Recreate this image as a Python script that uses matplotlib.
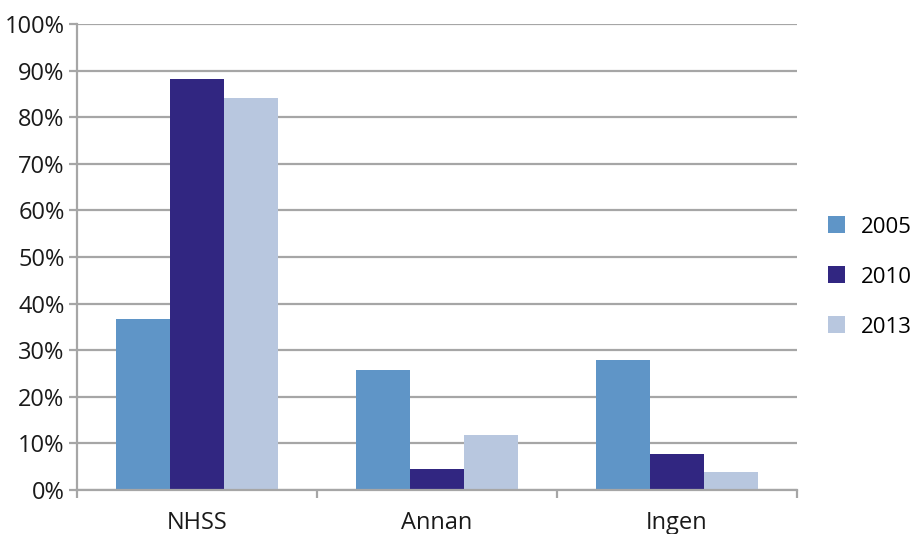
import matplotlib.pyplot as plt
import numpy as np
from matplotlib.patches import Patch

categories = ["NHSS", "Annan", "Ingen"]
years = ["2005", "2010", "2013"]
values_2005 = [36.6, 25.8, 27.8]
values_2010 = [88.3, 4.4, 7.8]
values_2013 = [84.2, 11.7, 3.9]
colors = ["#5F95C7", "#312681", "#B8C7DF"]

plt.rcParams['font.family'] = ['Open Sans', 'DejaVu Sans']
FS = 17

fig = plt.figure(figsize=(9.15, 5.34), dpi=100)
ax = fig.add_axes([77 / 915, 1 - 490 / 534, 720 / 915, 466 / 534])

x = np.arange(len(categories))
width = 0.225
series = [values_2005, values_2010, values_2013]
for i, (vals, col) in enumerate(zip(series, colors)):
    ax.bar(x + (i - 1) * width, vals, width, color=col, zorder=3)

grid_col = "#A6A6A6"
ax.set_xlim(-0.5, len(categories) - 0.5)
ax.set_ylim(0, 100)
ax.set_yticks(np.arange(0, 101, 10))
ax.set_yticklabels([f"{v}%" for v in range(0, 101, 10)], fontsize=FS, color="#1a1a1a")
ax.yaxis.grid(True, color=grid_col, linewidth=1.6, zorder=0)

# category labels centred, ticks at group boundaries
ax.set_xticks(x)
ax.set_xticklabels(categories, fontsize=FS, color="#1a1a1a")
ax.tick_params(axis="x", length=0, pad=15)
ax.set_xticks(np.arange(-0.5, len(categories)), minor=True)
ax.tick_params(axis="x", which="minor", length=6, width=1.6, color=grid_col)
ax.tick_params(axis="y", length=6, width=1.6, color=grid_col, pad=3)

for side in ["top", "right"]:
    ax.spines[side].set_visible(False)
for side in ["left", "bottom"]:
    ax.spines[side].set_color(grid_col)
    ax.spines[side].set_linewidth(1.6)
    ax.spines[side].set_zorder(4)

handles = [Patch(facecolor=c, label=y) for c, y in zip(colors, years)]
fig.legend(handles=handles, loc="center left", bbox_to_anchor=(808 / 915, 1 - 277 / 534),
           frameon=False, fontsize=16, handlelength=0.78, handleheight=0.78,
           handletextpad=0.7, labelspacing=1.3)

fig.savefig("out.png", dpi=100)
